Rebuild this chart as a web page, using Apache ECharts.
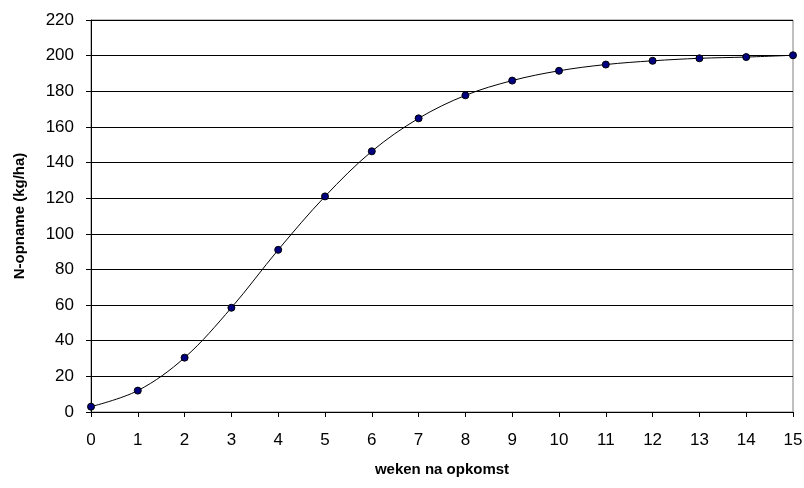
<!DOCTYPE html>
<html><head><meta charset="utf-8">
<script src="https://cdn.jsdelivr.net/npm/echarts@6/dist/echarts.min.js"></script>
<style>html,body{margin:0;padding:0;background:#fff}#c{width:804px;height:488px}</style>
</head><body><div id="c"></div>
<script>
var weeks = [0,1,2,3,4,5,6,7,8,9,10,11,12,13,14,15];
var nUptake = [3,12,30.5,58.5,91,121,146.3,164.8,177.7,186,191.5,195,197.1,198.5,199.2,200.2];
var xTitle = 'weken na opkomst';
var yTitle = 'N-opname (kg/ha)';

var chart = echarts.init(document.getElementById('c'), null, {renderer:'canvas'});
var font = 'Liberation Sans, Arial, sans-serif';
chart.setOption({
  animation:false,
  backgroundColor:'#fff',
  grid:{left:91,right:11,top:20,bottom:76,show:true,borderColor:'#808080',borderWidth:1,
    containLabel:false,outerBoundsMode:'none'},
  xAxis:{type:'value',min:0,max:15,interval:1,
    name:xTitle,nameLocation:'middle',nameGap:50,
    nameTextStyle:{fontFamily:font,fontSize:15,fontWeight:'bold',color:'#000'},
    axisLine:{lineStyle:{color:'#000',width:1}},
    axisTick:{show:true,length:5,lineStyle:{color:'#000'}},
    axisLabel:{fontFamily:font,fontSize:17,color:'#000',margin:20},
    splitLine:{show:false}},
  yAxis:{type:'value',min:0,max:220,interval:20,
    name:yTitle,nameLocation:'middle',nameGap:64,nameRotate:90,
    nameTextStyle:{fontFamily:font,fontSize:15,fontWeight:'bold',color:'#000'},
    axisLine:{show:true,lineStyle:{color:'#000',width:1}},
    axisTick:{show:true,length:5,lineStyle:{color:'#000'}},
    axisLabel:{fontFamily:font,fontSize:17,color:'#000',margin:17},
    splitLine:{show:true,lineStyle:{color:'#000',width:1}}},
  series:[{type:'line',data:weeks.map(function(w,i){return [w,nUptake[i]];}),
    smooth:0.35,symbol:'circle',symbolSize:7,
    lineStyle:{color:'#000',width:1},
    itemStyle:{color:'#000080',borderColor:'#000',borderWidth:1},
    z:5}]
});
</script></body></html>
